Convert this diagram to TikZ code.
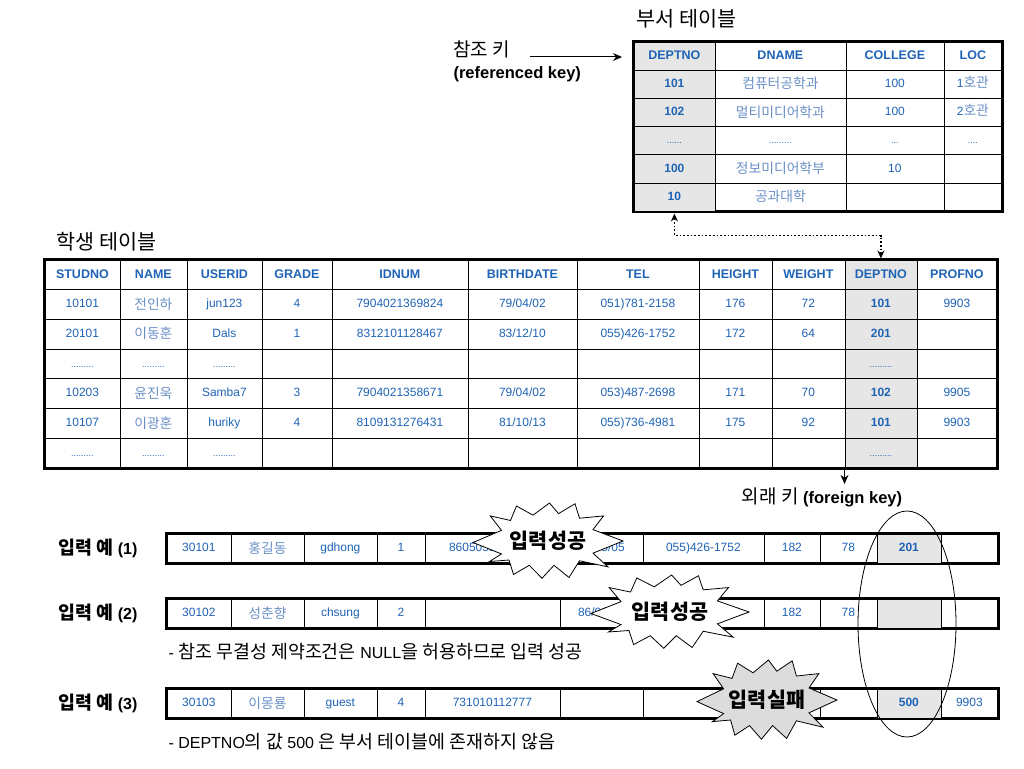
\documentclass[tikz,border=0pt]{standalone}
\usepackage{fontspec}
\setmainfont{Liberation Sans}
\newfontfamily\krfont[Scale=1.15]{Noto Sans CJK KR}
\usetikzlibrary{matrix,arrows.meta,calc,positioning}
\newcommand{\K}[1]{{\krfont #1}}
% outline of an explosion, unit box centred on the origin (y points down)
\newcommand{\burstoutline}{(-0.5,0.02) -- (-0.31,-0.14) -- (-0.385,-0.33) -- (-0.25,-0.27)
  -- (-0.21,-0.46) -- (-0.10,-0.34) -- (0.01,-0.5) -- (0.07,-0.36) -- (0.18,-0.49) -- (0.21,-0.3)
  -- (0.37,-0.33) -- (0.30,-0.15) -- (0.5,0) -- (0.30,0.16) -- (0.40,0.34) -- (0.21,0.26)
  -- (0.14,0.48) -- (0.04,0.32) -- (-0.04,0.49) -- (-0.125,0.32) -- (-0.23,0.44) -- (-0.26,0.25)
  -- (-0.39,0.27) -- (-0.31,0.17) -- cycle}
\definecolor{cellblue}{HTML}{1F63B6}
\definecolor{krblue}{HTML}{6A8FC6}
\definecolor{keygray}{HTML}{E6E6E6}
\definecolor{burstgray}{HTML}{DCDCDC}

\tikzset{
  tcell/.style={draw, line width=0.8pt, inner sep=0pt, anchor=center, text height=9pt, text depth=2.5pt,
    text=cellblue, font=\fontsize{12}{14}\selectfont},
  thead/.style={font=\bfseries\fontsize{12.5}{14}\selectfont},
  keycol/.style={fill=keygray, font=\bfseries\fontsize{12}{14}\selectfont},
  krcell/.style={font=\krfont\fontsize{12}{14}\selectfont, text=krblue, text height=10.5pt, text depth=1pt},
  dotcell/.style={font=\fontsize{9}{10}\selectfont},
  tbl/.style={matrix of nodes, nodes in empty cells, draw, line width=3pt, inner sep=0pt,
    column sep=-0.8pt, row sep=-0.8pt, anchor=north west, nodes={tcell}},
  inrow/.style={tbl, nodes={minimum height=29pt},
    column 1/.style={nodes={minimum width=64pt}},
    column 2/.style={nodes={minimum width=73pt}},
    column 3/.style={nodes={minimum width=73pt}},
    column 4/.style={nodes={minimum width=48pt}},
    column 5/.style={nodes={minimum width=135pt}},
    column 6/.style={nodes={minimum width=83pt}},
    column 7/.style={nodes={minimum width=121pt}},
    column 8/.style={nodes={minimum width=56pt}},
    column 9/.style={nodes={minimum width=57pt}},
    column 10/.style={nodes={minimum width=64pt, keycol}},
    column 11/.style={nodes={minimum width=57pt}}},
  rowlabel/.style={font=\bfseries\fontsize{16}{18}\selectfont},
  burstline/.style={draw, line width=0.8pt, fill=white},
  bursttext/.style={font=\krfont\bfseries\fontsize{18}{20}\selectfont},
}

\begin{document}
\begin{tikzpicture}[x=1pt, y=-1pt, >={Stealth[length=9pt, width=8pt]}]
\useasboundingbox (0,0) rectangle (1024,768);

% department table
\node (dtitle) [anchor=west, font=\krfont\fontsize{18}{20}\selectfont] at (633,19) {부서 테이블};
\matrix (d) [tbl, nodes={minimum height=28.2pt},
  column 1/.style={nodes={minimum width=81pt, keycol}},
  column 2/.style={nodes={minimum width=131pt}},
  column 3/.style={nodes={minimum width=98pt}},
  column 4/.style={nodes={minimum width=58pt}},
  row 1/.style={nodes={thead}}] at (632,40)
{
DEPTNO & DNAME & COLLEGE & LOC \\
101 & |[krcell]| 컴퓨터공학과 & 100 & 1\K{\color{krblue}호관} \\
102 & |[krcell]| 멀티미디어학과 & 100 & 2\K{\color{krblue}호관} \\
|[dotcell]| ...... & |[dotcell]| ......... & |[dotcell]| ... & |[dotcell]| .... \\
100 & |[krcell]| 정보미디어학부 & 10 & \\
10 & |[krcell]| 공과대학 & & \\
};
\node (refkey) [anchor=west, align=left, font=\fontsize{16.5}{22}\selectfont] at (450,61)
  {\K{참조 키}\\\textbf{(referenced key)}};
\coordinate (refstart) at (530,57);
\draw[->, line width=1pt, shorten >=10pt] (refstart) -- (refstart -| d.west);

% student table
\node (stitle) [anchor=west, font=\krfont\fontsize{18}{20}\selectfont] at (53,242) {학생 테이블};
\matrix (s) [tbl, nodes={minimum height=29.7pt},
  column 1/.style={nodes={minimum width=75pt}},
  column 2/.style={nodes={minimum width=67pt}},
  column 3/.style={nodes={minimum width=75pt}},
  column 4/.style={nodes={minimum width=70pt}},
  column 5/.style={nodes={minimum width=136pt}},
  column 6/.style={nodes={minimum width=109pt}},
  column 7/.style={nodes={minimum width=122pt}},
  column 8/.style={nodes={minimum width=73pt}},
  column 9/.style={nodes={minimum width=73pt}},
  column 10/.style={nodes={minimum width=72pt, keycol}},
  column 11/.style={nodes={minimum width=80pt}},
  row 1/.style={nodes={thead}}] at (43,258)
{
STUDNO & NAME & USERID & GRADE & IDNUM & BIRTHDATE & TEL & HEIGHT & WEIGHT & DEPTNO & PROFNO \\
10101 & |[krcell]| 전인하 & jun123 & 4 & 7904021369824 & 79/04/02 & 051)781-2158 & 176 & 72 & 101 & 9903 \\
20101 & |[krcell]| 이동훈 & Dals & 1 & 8312101128467 & 83/12/10 & 055)426-1752 & 172 & 64 & 201 & \\
|[dotcell]| ......... & |[dotcell]| ......... & |[dotcell]| ......... & & & & & & & |[dotcell]| ......... & \\
10203 & |[krcell]| 윤진욱 & Samba7 & 3 & 7904021358671 & 79/04/02 & 053)487-2698 & 171 & 70 & 102 & 9905 \\
10107 & |[krcell]| 이광훈 & huriky & 4 & 8109131276431 & 81/10/13 & 055)736-4981 & 175 & 92 & 101 & 9903 \\
|[dotcell]| ......... & |[dotcell]| ......... & |[dotcell]| ......... & & & & & & & |[dotcell]| ......... & \\
};
\draw[<->, dotted, line width=1.7pt, >={Stealth[length=8pt, width=7pt]}, shorten <=2pt, shorten >=1pt]
  (d-6-1.south) -- ++(0,24) -| (s-1-10.north);
\node (fk) [font=\fontsize{16.5}{18}\selectfont] at (822,497) {\K{외래 키} \textbf{(foreign key)}};
\draw[->, line width=1pt] (s-7-10.south west) -- (fk.north -| s-7-10.south west);

% input examples
\matrix (in1) [inrow] at (165,532)
{
30101 & |[krcell]| 홍길동 & gdhong & 1 & 8605051234567 & 86/05/05 & 055)426-1752 & 182 & 78 & 201 & \\
};
\matrix (in2) [inrow] at (165,597)
{
30102 & |[krcell]| 성춘향 & chsung & 2 & & 86/03/12 & 055)426-1752 & 182 & 78 & & \\
};
\matrix (in3) [inrow] at (165,687)
{
30103 & |[krcell]| 이몽룡 & guest & 4 & 731010112777 & & & & & 500 & 9903 \\
};
\node (ex1) [rowlabel, left=24pt of in1] {\K{입력 예} (1)};
\node (ex2) [rowlabel, left=24pt of in2] {\K{입력 예} (2)};
\node (ex3) [rowlabel, left=24pt of in3] {\K{입력 예} (3)};
\node (note1) [anchor=west, font=\fontsize{16}{18}\selectfont] at (165,652)
  {- \K{참조 무결성 제약조건은} NULL\K{을 허용하므로 입력 성공}};
\node (note2) [anchor=west, font=\fontsize{16}{18}\selectfont] at (165,742)
  {- DEPTNO\K{의 값} 500 \K{은 부서 테이블에 존재하지 않음}};

% result bursts
\coordinate (b1) at (548,541);
\coordinate (b2) at (670,612);
\coordinate (b3) at (767,700);
\draw[burstline, shift={(b1)}, xscale=150, yscale=76] \burstoutline;
\node (b1text) [bursttext] at (b1) {입력성공};
\draw[burstline, shift={(b2)}, xscale=158, yscale=74] \burstoutline;
\node (b2text) [bursttext] at (b2) {입력성공};
\draw[burstline, fill=burstgray, shift={(b3)}, xscale=140, yscale=80] \burstoutline;
\node (b3text) [bursttext] at (b3) {입력실패};

\draw[line width=0.8pt] (907,624) ellipse [x radius=49, y radius=113];
\end{tikzpicture}
\end{document}
